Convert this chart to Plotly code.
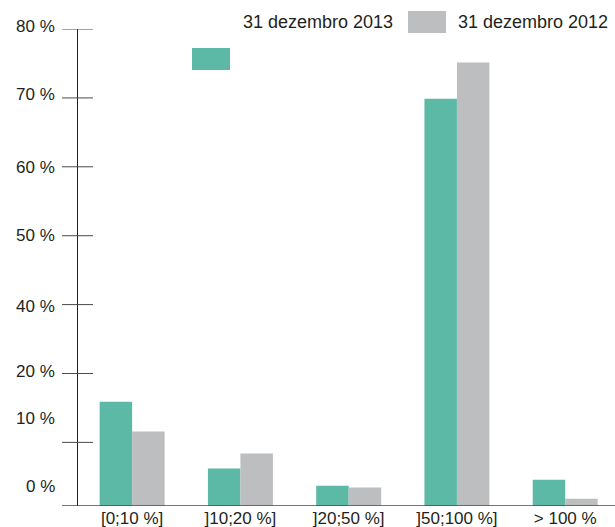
import plotly.graph_objects as go

# Distribution by ratio bracket (% of total)
categories = ["[0;10 %]", "]10;20 %]", "]20;50 %]", "]50;100 %]", "> 100 %"]
values_2013 = [17.5, 6.3, 3.4, 68.3, 4.4]
values_2012 = [12.5, 8.8, 3.1, 74.4, 1.2]

series_names = ["31 dezembro 2013", "31 dezembro 2012"]

# Y-axis decoration: tick mark positions and label positions (value units)
tick_marks = [80, 68.44, 56.89, 45.33, 33.78, 22.22, 10.67]
label_text = ["80 %", "70 %", "60 %", "50 %", "40 %", "20 %", "10 %", "0 %"]
label_pos = [80.4, 69.0, 56.8, 45.3, 33.4, 22.5, 14.6, 3.2]

Y_MAX = 80

GREEN = "#5bb9a5"
GREY = "#bdbec0"
TEXT = "#231f20"
FONT = "Liberation Sans, Arial, sans-serif"

W, H = 615, 527
ML, MR, MT, MB = 78, 0, 29, 21
PW, PH = W - ML - MR, H - MT - MB


def px_x(px):
    return (px - ML) / PW


def px_y(py):
    return (H - MB - py) / PH


fig = go.Figure()
fig.add_trace(go.Bar(x=categories, y=values_2013, name=series_names[0],
                     marker=dict(color=GREEN, line=dict(width=0))))
fig.add_trace(go.Bar(x=categories, y=values_2012, name=series_names[1],
                     marker=dict(color=GREY, line=dict(width=0))))

shapes = []
# tick marks crossing the vertical axis
for v in tick_marks:
    shapes.append(dict(type="line", xref="paper", yref="y",
                       x0=px_x(62), x1=px_x(93), y0=v, y1=v,
                       line=dict(color="#4a4a4a", width=1)))
# baseline
shapes.append(dict(type="line", xref="paper", yref="y",
                   x0=px_x(62), x1=1, y0=0, y1=0,
                   line=dict(color="#4a4a4a", width=1.5)))
# legend swatches
shapes.append(dict(type="rect", xref="paper", yref="paper",
                   x0=px_x(192), x1=px_x(230), y0=px_y(70), y1=px_y(48),
                   fillcolor=GREEN, line=dict(width=0)))
shapes.append(dict(type="rect", xref="paper", yref="paper",
                   x0=px_x(408), x1=px_x(446), y0=px_y(33), y1=px_y(11),
                   fillcolor=GREY, line=dict(width=0)))

annotations = [
    dict(text=series_names[0], xref="paper", yref="paper",
         x=px_x(241), y=px_y(22), xanchor="left", yanchor="middle",
         showarrow=False, font=dict(size=18, color=TEXT, family=FONT)),
    dict(text=series_names[1], xref="paper", yref="paper",
         x=px_x(456), y=px_y(22), xanchor="left", yanchor="middle",
         showarrow=False, font=dict(size=18, color=TEXT, family=FONT)),
]
# y-axis labels (axis range starts at 0, so value / Y_MAX is the paper fraction)
for txt, v in zip(label_text, label_pos):
    annotations.append(dict(text=txt, xref="paper", yref="paper",
                            x=px_x(57), y=v / Y_MAX,
                            xanchor="right", yanchor="middle",
                            showarrow=False,
                            font=dict(size=17, color=TEXT, family=FONT)))

fig.update_layout(
    width=W, height=H,
    margin=dict(l=ML, r=MR, t=MT, b=MB, pad=0),
    paper_bgcolor="white", plot_bgcolor="white",
    barmode="group", bargap=0.40, bargroupgap=0,
    showlegend=False,
    font=dict(family=FONT, color=TEXT, size=17),
    shapes=shapes, annotations=annotations,
    xaxis=dict(range=[-0.5, 4.46], showgrid=False, zeroline=False,
               showline=False, ticks="", tickfont=dict(size=17, color=TEXT),
               fixedrange=True, automargin=False),
    yaxis=dict(range=[0, Y_MAX], showgrid=False, zeroline=False,
               showline=True, linecolor=TEXT, linewidth=1,
               showticklabels=False, ticks="",
               fixedrange=True, automargin=False),
)

fig.write_html("out.html")
